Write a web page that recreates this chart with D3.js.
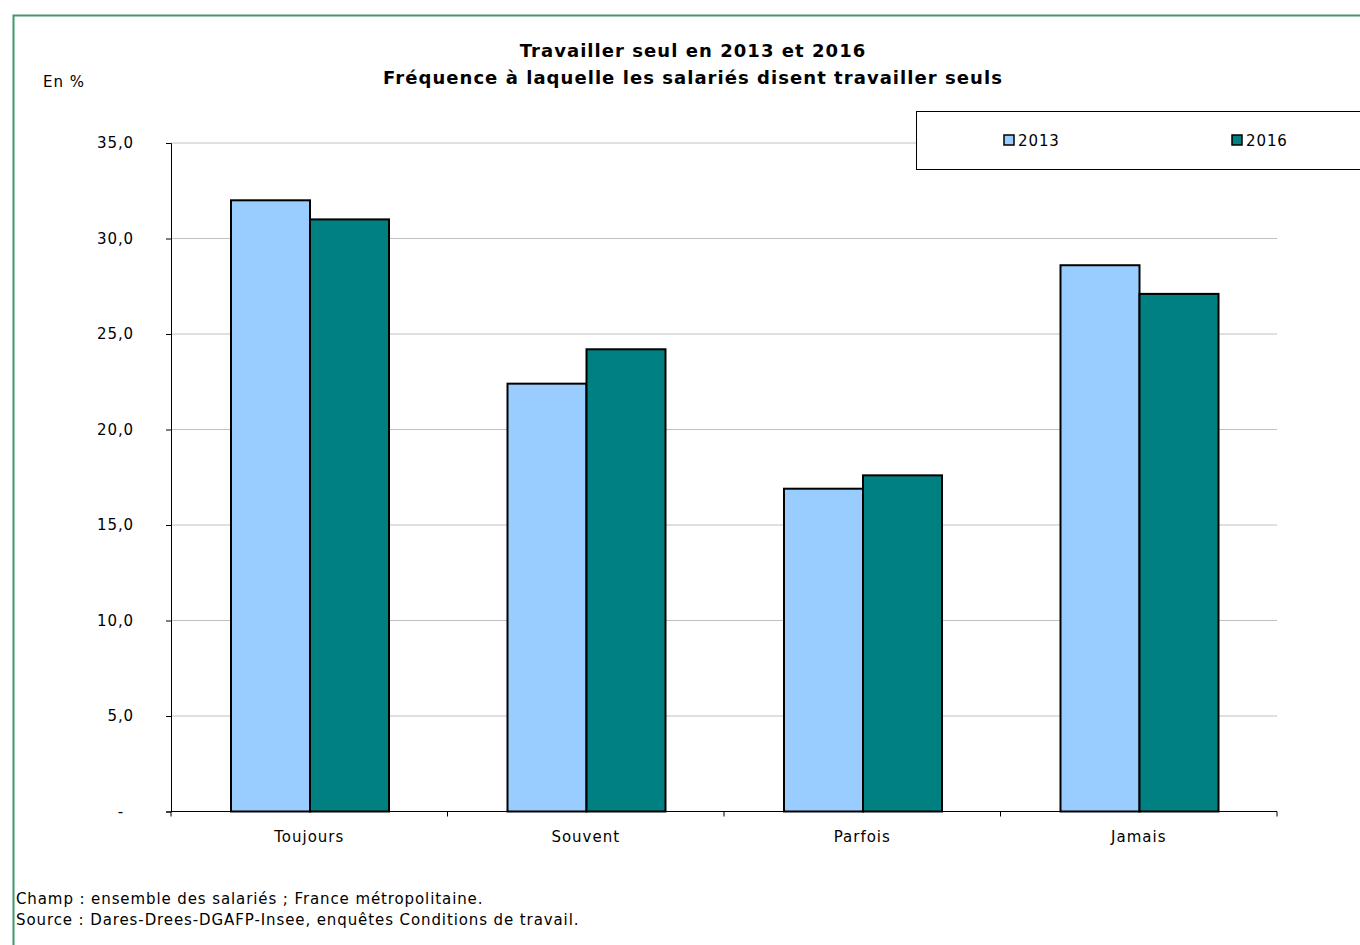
<!DOCTYPE html>
<html><head><meta charset="utf-8">
<script src="https://cdn.jsdelivr.net/npm/d3@7"></script>
<style>
body{margin:0;background:#fff;}
text{font-family:"DejaVu Sans",Verdana,sans-serif;}
</style></head>
<body>
<svg id="c" width="1360" height="945"></svg>
<script>
const categories = ["Toujours","Souvent","Parfois","Jamais"];
const series = ["2013","2016"];
const values2013 = [32.0, 22.4, 16.9, 28.6];
const values2016 = [31.0, 24.2, 17.6, 27.1];
const yTicks = [0,5,10,15,20,25,30,35];
const colors = ["#99ccff","#008080"];

const svg = d3.select("#c");
const M = {left:171, right:1277, top:143, bottom:811.5};

// outer border
svg.append("rect").attr("x",13.5).attr("y",15.5).attr("width",1360).attr("height",940)
  .attr("fill","none").attr("stroke","#3a9a68").attr("stroke-width",2);

const x = d3.scaleBand().domain(categories).range([M.left,M.right]).paddingInner(0).paddingOuter(0);
const y = d3.scaleLinear().domain([0,35]).range([M.bottom,M.top]);
const xs = d3.scaleBand().domain(series).range([0,x.bandwidth()]).paddingInner(0).paddingOuter(0.75);

// gridlines
svg.append("g").selectAll("line").data(yTicks.filter(d=>d>0)).join("line")
  .attr("x1",M.left).attr("x2",M.right).attr("y1",d=>y(d)).attr("y2",d=>y(d))
  .attr("stroke","#c0c0c0").attr("stroke-width",1);

// bars
const data = categories.map((c,i)=>({c, v:[values2013[i],values2016[i]]}));
const g = svg.append("g").selectAll("g").data(data).join("g").attr("transform",d=>`translate(${x(d.c)+0.75},0)`);
g.selectAll("rect").data(d=>d.v.map((v,j)=>({s:series[j],v,j}))).join("rect")
  .attr("x",d=>xs(d.s)).attr("width",xs.bandwidth())
  .attr("y",d=>y(d.v)).attr("height",d=>y(0)-y(d.v))
  .attr("fill",d=>colors[d.j]).attr("stroke","#000").attr("stroke-width",2);

// y axis
const yAxis = d3.axisLeft(y).tickValues(yTicks).tickSize(5).tickPadding(32)
  .tickFormat(d=> d===0 ? "-" : d3.format(".1f")(d).replace(".",","));
const ya = svg.append("g").attr("transform",`translate(${M.left},0)`).call(yAxis);
ya.selectAll("text").attr("font-size",15).attr("letter-spacing",0.9).attr("fill","#000");
ya.selectAll("text").filter(d=>d===0).attr("dx",-10);
ya.selectAll("line,path").attr("stroke","#000");

// x axis
const xAxis = d3.axisBottom(x).tickSize(0).tickPadding(20);
const xa = svg.append("g").attr("transform",`translate(0,${M.bottom})`).call(xAxis);
xa.selectAll("text").attr("font-size",15).attr("letter-spacing",1).attr("fill","#000");
xa.select("path").attr("stroke","#000").attr("d",`M${M.left},0H${M.right}`);
xa.selectAll("line.sep").data(d3.range(categories.length+1)).join("line").attr("class","sep")
  .attr("x1",i=>M.left+i*x.step()).attr("x2",i=>M.left+i*x.step()).attr("y1",0).attr("y2",5).attr("stroke","#000");

// titles
svg.append("text").attr("x",693).attr("y",57).attr("text-anchor","middle").attr("font-weight","bold").attr("font-size",18).attr("letter-spacing",1.05)
  .text("Travailler seul en 2013 et 2016");
svg.append("text").attr("x",693).attr("y",84).attr("text-anchor","middle").attr("font-weight","bold").attr("font-size",18).attr("letter-spacing",1.05)
  .text("Fréquence à laquelle les salariés disent travailler seuls");
svg.append("text").attr("x",43).attr("y",87).attr("font-size",15).attr("letter-spacing",1).text("En %");

// legend
svg.append("rect").attr("x",916.5).attr("y",111.5).attr("width",460).attr("height",58)
  .attr("fill","#fff").attr("stroke","#000").attr("stroke-width",1);
const legX = [1004,1232];
series.forEach((s,i)=>{
  svg.append("rect").attr("x",legX[i]).attr("y",135).attr("width",10).attr("height",10)
    .attr("fill",colors[i]).attr("stroke","#000").attr("stroke-width",1.5);
  svg.append("text").attr("x",legX[i]+14).attr("y",146).attr("font-size",15).attr("letter-spacing",0.9).text(s);
});

// footnotes
svg.append("text").attr("x",16).attr("y",904).attr("font-size",15).attr("letter-spacing",0.9).text("Champ : ensemble des salariés ; France métropolitaine.");
svg.append("text").attr("x",16).attr("y",925).attr("font-size",15).attr("letter-spacing",0.9).text("Source : Dares-Drees-DGAFP-Insee, enquêtes Conditions de travail.");
</script>
</body></html>
